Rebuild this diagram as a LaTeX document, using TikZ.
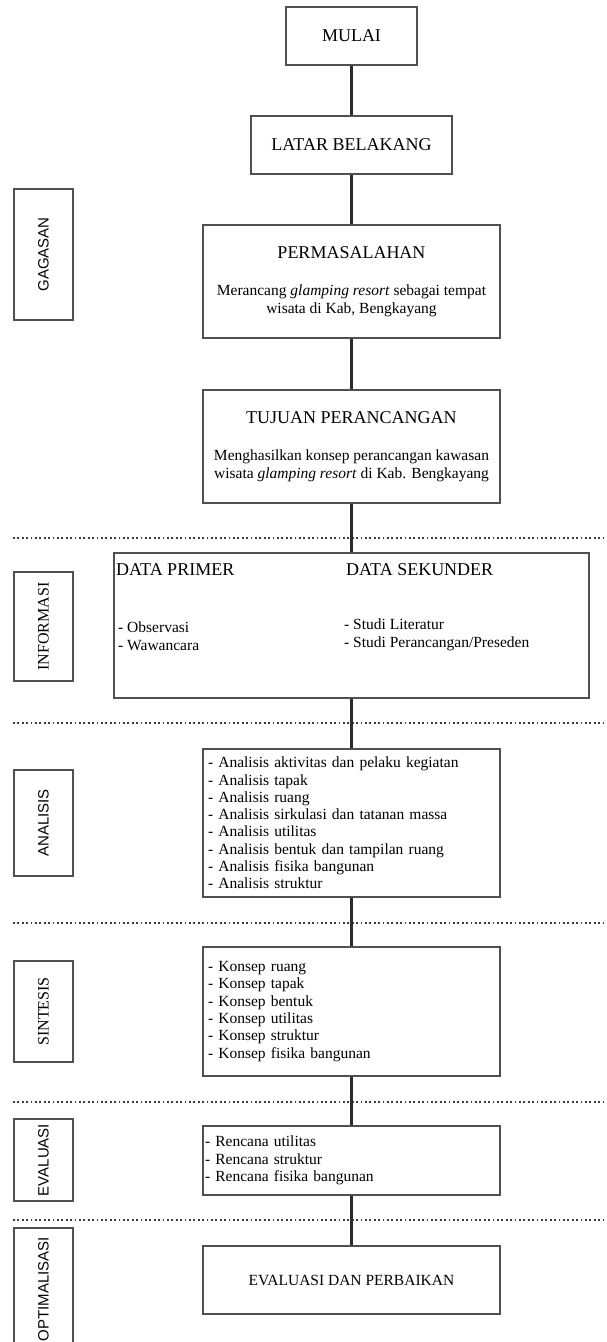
\documentclass[tikz,border=0pt]{standalone}
\usepackage{fontspec}
\setmainfont{Liberation Serif}
\setsansfont{Liberation Sans}
\definecolor{garis}{HTML}{2B2B2B}
\definecolor{bingkai}{HTML}{505050}
\definecolor{titik}{HTML}{3C3C3C}
\newcommand{\judul}{\fontsize{18}{21}\selectfont}
\newcommand{\isi}{\fontsize{15.5}{17.3}\selectfont}
\tikzset{
  kotak/.style={draw=bingkai,line width=1.3pt,inner sep=0pt,align=center,node font=\judul},
  daftar/.style={draw=bingkai,line width=1.3pt,inner xsep=5pt,inner ysep=0pt,text width=287pt,align=left,node font=\isi},
  tahap/.style={draw=bingkai,line width=1.3pt,inner sep=0pt,rotate=90,minimum height=59pt,node font=\sffamily\fontsize{15}{18}\selectfont},
  tahapr/.style={tahap,node font=\rmfamily\fontsize{16}{18}\selectfont},
  kolom/.style={inner sep=0pt,align=left,node font=\isi},
  sambung/.style={garis,line width=2.2pt},
  sekat/.style={titik,line width=1.6pt,dash pattern=on 1.8pt off 2.6pt},
}

\begin{document}
\begin{tikzpicture}[x=1pt,y=-1pt]
  \useasboundingbox (0,0) rectangle (606,1342);
  \draw[sekat] (13,538)--(606,538);
  \draw[sekat] (13,723)--(606,723);
  \draw[sekat] (13,923)--(606,923);
  \draw[sekat] (13,1102)--(606,1102);
  \draw[sekat] (13,1220)--(606,1220);

  \node[tahap,minimum width=131pt] (gagasan) at (43.5,254.5) {GAGASAN};
  \node[tahapr,minimum width=109pt] (informasi) at (43.5,626.5) {INFORMASI};
  \node[tahap,minimum width=106pt] (analisis) at (43.5,823) {ANALISIS};
  \node[tahapr,minimum width=101pt] (sintesis) at (43.5,1011.5) {SINTESIS};
  \node[tahap,minimum width=82pt] (evaluasi) at (43.5,1160) {EVALUASI};
  \node[tahap,minimum width=122pt] (optimalisasi) at (43.5,1289) {OPTIMALISASI};

  \node[kotak,minimum width=131pt,minimum height=58pt] (mulai) at (351.5,36) {MULAI};
  \node[kotak,minimum width=201pt,minimum height=58pt] (latar) at (351.5,145) {LATAR BELAKANG};
  \node[kotak,node font=\isi,minimum width=297pt,minimum height=113pt] (masalah) at (351.5,281.5)
    {{\judul PERMASALAHAN}\\[20pt]Merancang \textit{glamping resort} sebagai tempat\\wisata di Kab, Bengkayang};
  \node[kotak,node font=\isi,minimum width=297pt,minimum height=113pt] (tujuan) at (351.5,446.5)
    {{\judul TUJUAN PERANCANGAN}\\[20pt]Menghasilkan konsep perancangan kawasan\\wisata \textit{glamping resort} di Kab. Bengkayang};
  \node[kotak,minimum width=475pt,minimum height=145pt] (info) at (351.5,625.5) {};
  \node[inner sep=0pt,anchor=base west,node font=\judul] (primer) at (116,575) {DATA PRIMER};
  \node[inner sep=0pt,anchor=base west,node font=\judul] (sekunder) at (346,575) {DATA SEKUNDER};
  \node[kolom,anchor=north west] (primerisi) at (118,622) {- Observasi\\- Wawancara};
  \node[kolom,anchor=north west] (sekunderisi) at (344,619) {- Studi Literatur\\- Studi Perancangan/Preseden};
  \node[daftar,minimum height=148pt] (analisa) at (351.5,823)
    {- Analisis aktivitas dan pelaku kegiatan\\- Analisis tapak\\- Analisis ruang\\- Analisis sirkulasi dan tatanan massa\\- Analisis utilitas\\- Analisis bentuk dan tampilan ruang\\- Analisis fisika bangunan\\- Analisis struktur};
  \node[daftar,minimum height=129pt] (konsep) at (351.5,1011.5)
    {- Konsep ruang\\- Konsep tapak\\- Konsep bentuk\\- Konsep utilitas\\- Konsep struktur\\- Konsep fisika bangunan};
  \node[daftar,inner xsep=2pt,text width=293pt,minimum height=69pt] (rencana) at (351.5,1160.5)
    {- Rencana utilitas\\- Rencana struktur\\- Rencana fisika bangunan};
  \node[kotak,node font=\isi,minimum width=297pt,minimum height=68pt] (perbaikan) at (351.5,1280) {EVALUASI DAN PERBAIKAN};

  \draw[sambung] (mulai)--(latar);
  \draw[sambung] (latar)--(masalah);
  \draw[sambung] (masalah)--(tujuan);
  \draw[sambung] (tujuan)--(info);
  \draw[sambung] (info)--(analisa);
  \draw[sambung] (analisa)--(konsep);
  \draw[sambung] (konsep)--(rencana);
  \draw[sambung] (rencana)--(perbaikan);
\end{tikzpicture}
\end{document}
